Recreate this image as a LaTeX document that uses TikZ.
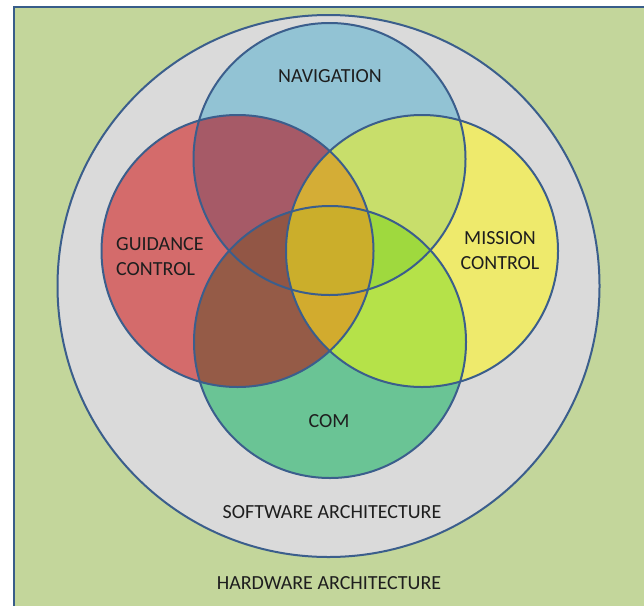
\documentclass[tikz,border=0pt]{standalone}
\usepackage{fontspec}
\setmainfont{Carlito}
\definecolor{bggreen}{HTML}{C3D69B}
\definecolor{framecol}{HTML}{385D8A}
\definecolor{swgray}{HTML}{DADADA}
\definecolor{linecol}{HTML}{3B5E8C}
\definecolor{cN}{HTML}{92C3D4}
\definecolor{cG}{HTML}{D46B6B}
\definecolor{cM}{HTML}{EEEA6C}
\definecolor{cC}{HTML}{6AC495}
\definecolor{cNG}{HTML}{A65A67}
\definecolor{cNM}{HTML}{C8DE6B}
\definecolor{cGC}{HTML}{955B47}
\definecolor{cMC}{HTML}{B5E249}
\definecolor{cNGM}{HTML}{D4AD36}
\definecolor{cGMC}{HTML}{D2AB2E}
\definecolor{cNMC}{HTML}{9FD93E}
\definecolor{cNGC}{HTML}{925645}
\definecolor{cALL}{HTML}{CBAE2B}
\definecolor{txt}{HTML}{1E1E1E}
\tikzset{
  ring/.style={draw=linecol, line width=2pt},
  lbl/.style={font=\fontsize{20}{25}\selectfont, text=txt, inner sep=0pt},
}
\newcommand{\circN}{(nc) circle[radius=136pt]}
\newcommand{\circG}{(gc) circle[radius=136pt]}
\newcommand{\circM}{(mc) circle[radius=136pt]}
\newcommand{\circC}{(cc) circle[radius=136pt]}
\begin{document}
\begin{tikzpicture}[x=1pt,y=-1pt]
\useasboundingbox (0,0) rectangle (644,605);
\clip (0,0) rectangle (644,605);
\coordinate (nc) at (329.5,159);
\coordinate (gc) at (237.5,251);
\coordinate (mc) at (422,251);
\coordinate (cc) at (330,342);
\coordinate (oc) at (328.5,286);
% frame
\fill[bggreen] (14,7) rectangle (650,612);
\draw[framecol, line width=2.5pt] (14,612) -- (14,7) -- (650,7);
% software circle
\fill[swgray] (oc) circle[radius=271pt];
\draw[ring] (oc) circle[radius=271pt];
% single fills
\fill[cN] \circN;
\fill[cG] \circG;
\fill[cM] \circM;
\fill[cC] \circC;
% pairs
\begin{scope}\clip \circN; \fill[cNG] \circG; \fill[cNM] \circM; \end{scope}
\begin{scope}\clip \circC; \fill[cGC] \circG; \fill[cMC] \circM; \end{scope}
% triples
\begin{scope}\clip \circN; \clip \circG; \fill[cNGM] \circM; \fill[cNGC] \circC; \end{scope}
\begin{scope}\clip \circC; \clip \circM; \fill[cGMC] \circG; \fill[cNMC] \circN; \end{scope}
% all four
\begin{scope}\clip \circN; \clip \circG; \clip \circM; \fill[cALL] \circC; \end{scope}
% outlines
\draw[ring] \circN;
\draw[ring] \circG;
\draw[ring] \circM;
\draw[ring] \circC;
% labels
\node[lbl] (nav) at (330,76) {NAVIGATION};
\node[lbl, align=left, anchor=west] (gui) at (116,256.5) {GUIDANCE\\CONTROL};
\node[lbl, align=center] (mis) at (500,250.5) {MISSION\\CONTROL};
\node[lbl] (com) at (329,421) {COM};
\node[lbl] (sw) at (332,512) {SOFTWARE ARCHITECTURE};
\node[lbl] (hw) at (329,583) {HARDWARE ARCHITECTURE};
\end{tikzpicture}
\end{document}
